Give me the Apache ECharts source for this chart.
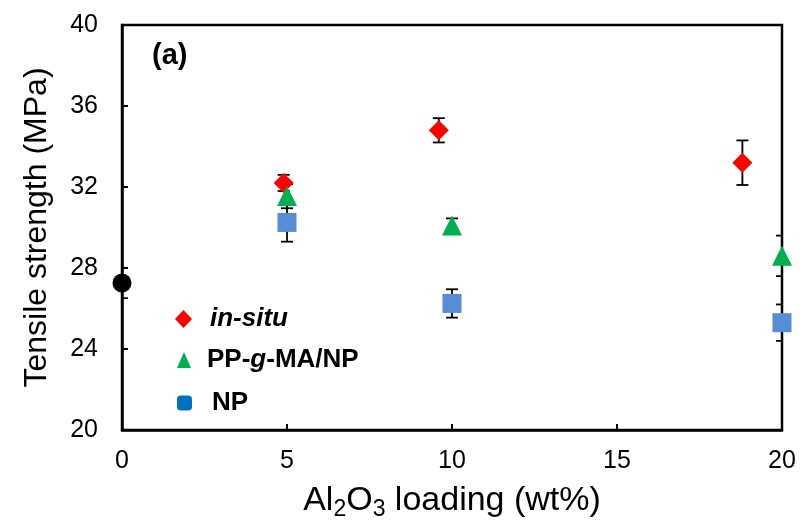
<!DOCTYPE html>
<html><head><meta charset="utf-8">
<script src="https://cdn.jsdelivr.net/npm/echarts@6/dist/echarts.min.js"></script>
<style>html,body{margin:0;padding:0;background:#fff}#c{width:800px;height:527px}</style>
</head><body><div id="c"></div>
<script>
const xTicks = [0, 5, 10, 15, 20];
const yTicks = [20, 24, 28, 32, 36, 40];
const neatX = [0];
const neatY = [27.26];
const neatErr = [0.75];
const inSituX = [4.9, 9.6, 18.8];
const inSituY = [32.2, 34.8, 33.2];
const inSituErr = [0.4, 0.6, 1.1];
const ppgmaX = [5, 10, 20];
const ppgmaY = [31.55, 30.1, 28.6];
const ppgmaErr = [0.6, 0.35, 1.0];
const npX = [5, 10, 20];
const npY = [30.25, 26.25, 25.3];
const npErr = [0.95, 0.7, 0.9];

const FONT = 'Liberation Sans, Arial, sans-serif';
const pts = (xs, ys) => xs.map((x, i) => [x, ys[i]]);
const errs = (xs, ys, es) => xs.map((x, i) => [x, ys[i] - es[i], ys[i] + es[i]]);

function errorSeries(data) {
  return {
    type: 'custom', z: 1, silent: true, clip: true,
    renderItem: function (params, api) {
      const x = api.value(0);
      const lo = api.coord([x, api.value(1)]);
      const hi = api.coord([x, api.value(2)]);
      const w = 6;
      const st = { stroke: '#000', lineWidth: 1.8 };
      return { type: 'group', children: [
        { type: 'line', shape: { x1: lo[0], y1: lo[1], x2: hi[0], y2: hi[1] }, style: st },
        { type: 'line', shape: { x1: lo[0] - w, y1: lo[1], x2: lo[0] + w, y2: lo[1] }, style: st },
        { type: 'line', shape: { x1: hi[0] - w, y1: hi[1], x2: hi[0] + w, y2: hi[1] }, style: st }
      ]};
    },
    data: data
  };
}

const chart = echarts.init(document.getElementById('c'), null, { renderer: 'canvas' });
const LF = 26;
const legendBase = {
  orient: 'vertical',
  textStyle: { fontFamily: FONT, fontSize: LF, fontWeight: 'bold', color: '#000',
    rich: {
      b: { fontFamily: FONT, fontSize: LF, fontWeight: 'bold', color: '#000' },
      i: { fontFamily: FONT, fontSize: LF, fontWeight: 'bold', fontStyle: 'italic', color: '#000' }
    } },
  selectedMode: false
};
function leg(extra, pad) {
  const o = Object.assign({}, legendBase, extra);
  o.textStyle = Object.assign({}, legendBase.textStyle, { padding: [0, 0, 0, pad] });
  return o;
}
chart.setOption({
  animation: false,
  backgroundColor: '#fff',
  grid: { left: 122, right: 18, top: 25, bottom: 97, show: true, borderColor: '#000', borderWidth: 2.5 },
  xAxis: {
    type: 'value', min: 0, max: 20, interval: 5,
    name: '{t|Al}{s|2}{t|O}{s|3}{t| loading (wt%)}', nameLocation: 'middle', nameGap: 50,
    nameTextStyle: { rich: {
      t: { fontFamily: FONT, fontSize: 34, color: '#000' },
      s: { fontFamily: FONT, fontSize: 23, color: '#000', padding: [18, 0, 0, 0] }
    } },
    axisLine: { lineStyle: { color: '#000', width: 2.5 } },
    axisTick: { inside: true, length: 6, lineStyle: { color: '#000', width: 2 } },
    axisLabel: { fontFamily: FONT, fontSize: 25, color: '#000', margin: 19 },
    splitLine: { show: false }
  },
  yAxis: {
    type: 'value', min: 20, max: 40, interval: 4,
    name: 'Tensile strength (MPa)', nameLocation: 'middle', nameGap: 69,
    nameTextStyle: { fontFamily: FONT, fontSize: 32, color: '#000' },
    axisLine: { show: true, lineStyle: { color: '#000', width: 2.5 } },
    axisTick: { show: true, inside: true, length: 6, lineStyle: { color: '#000', width: 2 } },
    axisLabel: { fontFamily: FONT, fontSize: 25, color: '#000', margin: 24 },
    splitLine: { show: false }
  },
  legend: [
    leg({ left: 170, top: 301, itemWidth: 17, itemHeight: 18,
      data: [{ name: 'in-situ', icon: 'diamond' }], formatter: () => '{i|in-situ}' }, 13),
    leg({ left: 172, top: 342, itemWidth: 14, itemHeight: 16,
      data: [{ name: 'PP-g-MA/NP', icon: 'triangle' }], formatter: () => '{b|PP-}{i|g}{b|-MA/NP}' }, 11),
    leg({ left: 172, top: 385, itemWidth: 15, itemHeight: 15,
      data: [{ name: 'NP', icon: 'roundRect', itemStyle: { color: '#0070C0' } }], formatter: () => '{b|NP}' }, 15)
  ],
  graphic: [
    { type: 'text', left: 152, top: 41, style: { text: '(a)', fontFamily: FONT, fontSize: 29, fontWeight: 'bold', fill: '#000' } }
  ],
  series: [
    errorSeries(errs(neatX, neatY, neatErr)),
    errorSeries(errs(inSituX, inSituY, inSituErr)),
    errorSeries(errs(ppgmaX, ppgmaY, ppgmaErr)),
    errorSeries(errs(npX, npY, npErr)),
    { name: 'neat', type: 'scatter', symbol: 'circle', symbolSize: 19, clip: false, z: 3,
      itemStyle: { color: '#000', opacity: 1 }, data: pts(neatX, neatY) },
    { name: 'in-situ', type: 'scatter', symbol: 'diamond', symbolSize: 20, clip: false, z: 3,
      itemStyle: { color: '#FF0000', opacity: 1 }, data: pts(inSituX, inSituY) },
    { name: 'PP-g-MA/NP', type: 'scatter', symbol: 'triangle', symbolSize: 20, clip: false, z: 3,
      itemStyle: { color: '#00B050', opacity: 1 }, data: pts(ppgmaX, ppgmaY) },
    { name: 'NP', type: 'scatter', symbol: 'rect', symbolSize: 19, clip: false, z: 3,
      itemStyle: { color: '#558ED5', opacity: 1 }, data: pts(npX, npY) }
  ]
});
</script></body></html>
